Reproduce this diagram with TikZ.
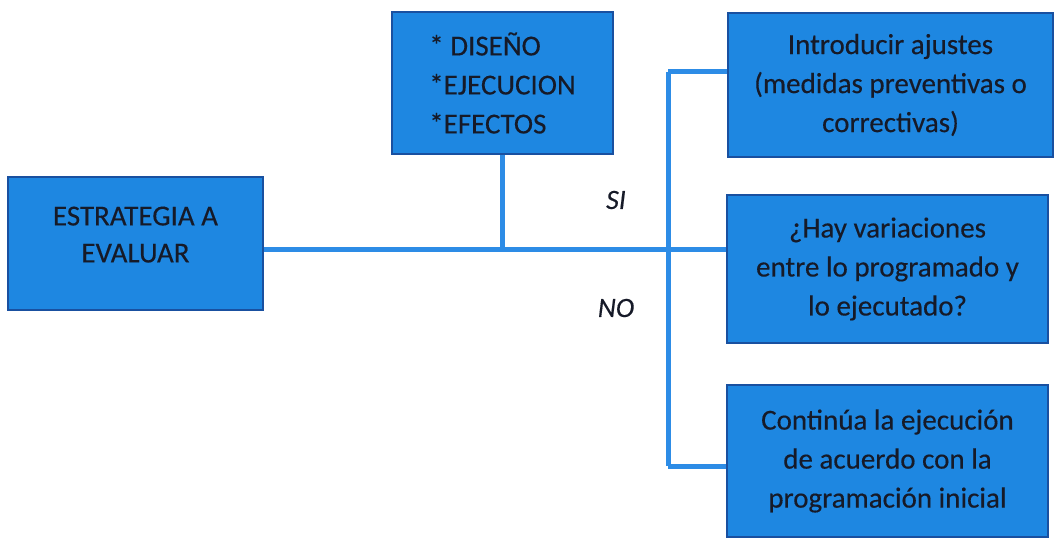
\documentclass[tikz,border=0pt]{standalone}
\usepackage{fontspec}
\setmainfont{Carlito}[FakeBold=0.3]
\definecolor{boxfill}{RGB}{30,135,225}
\definecolor{boxdraw}{RGB}{25,80,160}
\definecolor{linec}{RGB}{45,140,230}
\definecolor{txt}{RGB}{22,26,40}
\begin{document}
\begin{tikzpicture}[x=1pt,y=-1pt,
  bx/.style={draw=boxdraw,line width=1.6pt,fill=boxfill,text=txt,inner sep=0pt,
    font=\fontsize{29}{39}\selectfont,align=center},
  conn/.style={draw=linec,line width=5pt},
  lbl/.style={text=txt,font=\fontsize{28}{30}\selectfont\itshape}]
\useasboundingbox (0,0) rectangle (1055,540);
\node[bx,minimum width=255pt,minimum height=133pt] (b1) at (135.5,243.5) {ESTRATEGIA A\\[-2pt]EVALUAR\rule[-18pt]{0pt}{18pt}};
\node[bx,minimum width=221pt,minimum height=142pt,align=left] (b2) at (502.5,83) {* DISEÑO\\*EJECUCION\\*EFECTOS};
\node[bx,minimum width=325pt,minimum height=144pt] (b3) at (890.5,85) {Introducir ajustes\\(medidas preventivas o\\correctivas)};
\node[bx,minimum width=321pt,minimum height=148pt] (b4) at (887.5,269) {¿Hay variaciones\\entre lo programado y\\lo ejecutado?};
\node[bx,minimum width=321pt,minimum height=152pt] (b5) at (887.5,461) {Continúa la ejecución\\de acuerdo con la\\programación inicial};
\coordinate (j) at (668,250);
\coordinate (top) at (668,72);
\coordinate (bot) at (668,466);
\draw[conn] (b1.east |- j) -- (b4.west |- j);
\draw[conn] (b2.south) -- (b2.south |- j);
\draw[conn] (top) -- (bot);
\draw[conn] (top) -- (b3.west |- top);
\draw[conn] (bot) -- (b5.west |- bot);
\node[lbl] (si) at (616,200) {SI};
\node[lbl] (no) at (616,308) {NO};
\end{tikzpicture}
\end{document}
